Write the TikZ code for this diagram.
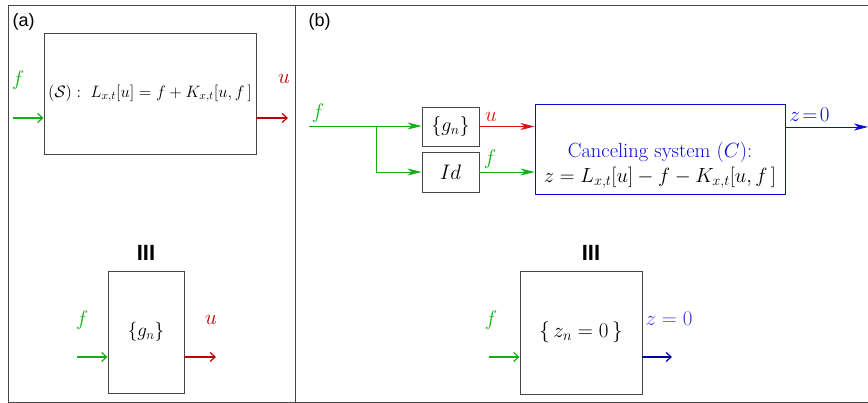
\documentclass[tikz,border=0pt]{standalone}
\usepackage{fix-cm}
\usepackage{fontspec}
\usepackage{amsmath}
\usetikzlibrary{arrows.meta}
\newfontfamily\labfont{Liberation Sans}
\definecolor{cgreen}{RGB}{20,175,20}
\definecolor{cred}{RGB}{190,0,0}
\definecolor{cred2}{RGB}{215,20,20}
\definecolor{cblue}{RGB}{10,10,215}
\definecolor{cblue2}{RGB}{0,0,170}
\definecolor{cblue3}{RGB}{60,60,210}
\definecolor{cgray}{RGB}{70,70,70}
\tikzset{
  blk/.style={draw=cgray, line width=0.9pt, fill=white, inner sep=0pt},
  arA/.style={line width=1.6pt, -{Straight Barb[length=5pt,width=9pt,line width=1.2pt]}},
  arB/.style={line width=0.9pt, -{Stealth[length=14pt,width=7pt,inset=4pt]}},
  lab/.style={font=\fontsize{21}{24}\selectfont},
  panel/.style={draw=cgray, line width=0.9pt},
  equiv/.style={font=\fontsize{22}{24}\selectfont\labfont\bfseries},
}
\begin{document}
\begin{tikzpicture}[x=1pt,y=-1pt]
\useasboundingbox (0,0) rectangle (868,403);
% panels
\draw[panel] (8,5) rectangle (295,402);
\draw[panel] (295,5) -- (868,5);
\draw[panel] (295,402) -- (868,402);
\node[font=\fontsize{18}{20}\selectfont\labfont, anchor=west] (la) at (9,22) {(a)};
\node[font=\fontsize{18}{20}\selectfont\labfont, anchor=west] (lb) at (305,22) {(b)};
% panel (a) top
\node[blk, minimum width=212pt, minimum height=121pt] (S) at (150,93.5)
  {\fontsize{16.5}{20}\selectfont $(\mathcal{S}):\ L_{x,t}[u]=f+K_{x,t}[u,f\,]$};
\coordinate (fa) at (13,118);
\coordinate (ua) at (288,118);
\draw[arA, cgreen] (fa) -- (fa -| S.west);
\draw[arA, cred] (ua -| S.east) -- (ua);
\node[lab, text=cgreen] (fal) at (18,80) {$f$};
\node[lab, text=cred] (ual) at (284,79) {$u$};
% panel (a) bottom
\node[blk, minimum width=76pt, minimum height=122pt] (G) at (146,332)
  {\fontsize{19}{22}\selectfont $\{g_n\}$};
\node[equiv] (eqa) at (146,253) {III};
\coordinate (fa2) at (77,357);
\coordinate (ua2) at (216,357);
\draw[arA, cgreen] (fa2) -- (fa2 -| G.west);
\draw[arA, cred] (ua2 -| G.east) -- (ua2);
\node[lab, text=cgreen] (fa2l) at (82,320) {$f$};
\node[lab, text=cred] (ua2l) at (211,320) {$u$};
% panel (b) top
\node[blk, minimum width=57pt, minimum height=39pt] (Gb) at (450.5,126.5)
  {\fontsize{20}{22}\selectfont $\{g_n\}$};
\node[blk, minimum width=57pt, minimum height=40pt] (Id) at (450.5,172)
  {\fontsize{21}{24}\selectfont $Id$};
\node[draw=cblue, line width=0.9pt, minimum width=250pt, minimum height=90pt, inner sep=0pt] (C) at (660,149) {};
\node[text=cblue, font=\fontsize{20.5}{22}\selectfont] (Ct) at (660,152) {Canceling system $(C)$:};
\node[font=\fontsize{20.5}{22}\selectfont] (Cf) at (660,178) {$z=L_{x,t}[u]-f-K_{x,t}[u,f\,]$};
\coordinate (fb) at (309,126);
\coordinate (br) at (376.5,126);
\coordinate (zb) at (868,127);
\draw[arB, cgreen] (fb) -- (Gb.west |- fb);
\draw[arB, cgreen] (br) |- (Id.west);
\draw[arB, cred2] (Gb.east) -- (Gb.east -| C.west);
\draw[arB, cgreen] (Id.east) -- (Id.east -| C.west);
\draw[arB, cblue] (C.east |- zb) -- (zb);
\node[lab, text=cgreen] (fbl) at (318,113) {$f$};
\node[lab, text=cred2] (ubl) at (491,117) {$u$};
\node[lab, text=cgreen] (fbl2) at (490,159) {$f$};
\node[lab, text=cblue, anchor=west] (zbl) at (786,115) {$z\!=\!0$};
% panel (b) bottom
\node[blk, minimum width=122pt, minimum height=123pt] (Z) at (581,332.5)
  {\fontsize{21}{24}\selectfont $\{\,z_n=0\,\}$};
\node[equiv] (eqb) at (591,253) {III};
\coordinate (fz) at (489,357);
\coordinate (zz) at (672,357);
\draw[arA, cgreen] (fz) -- (fz -| Z.west);
\draw[arA, cblue2] (zz -| Z.east) -- (zz);
\node[lab, text=cgreen] (fzl) at (491,320) {$f$};
\node[lab, text=cblue3, anchor=west] (zzl) at (642,319) {$z=0$};
\end{tikzpicture}
\end{document}
